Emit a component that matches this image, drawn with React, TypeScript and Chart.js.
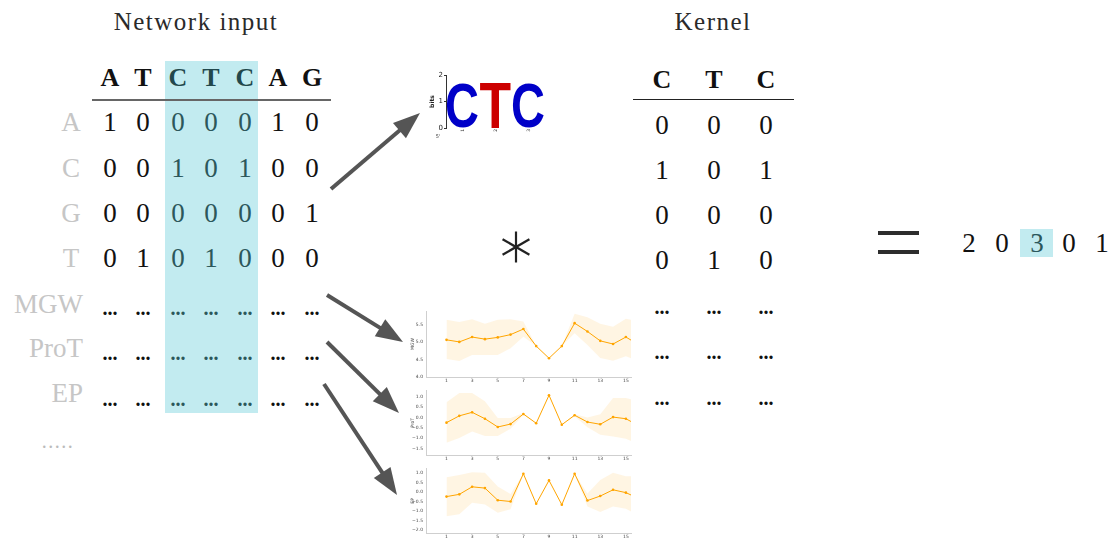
import React, { useEffect, useRef } from 'react';
import { Chart, registerables } from 'chart.js';

Chart.register(...registerables);

const SERIF = '"Liberation Serif", "DejaVu Serif", serif';
const SANS = '"DejaVu Sans", "Liberation Sans", sans-serif';

// ---- one-hot encoded input ----
const seqBases = ['A', 'T', 'C', 'T', 'C', 'A', 'G'];
const rowNames = ['A', 'C', 'G', 'T'];
const oneHot = [
  [1, 0, 0, 0, 0, 1, 0],
  [0, 0, 1, 0, 1, 0, 0],
  [0, 0, 0, 0, 0, 0, 1],
  [0, 1, 0, 1, 0, 0, 0],
];
const featureNames = ['MGW', 'ProT', 'EP'];
const windowCols = [2, 3, 4];

// ---- convolution kernel and output ----
const kernelBases = ['C', 'T', 'C'];
const kernel = [
  [0, 0, 0],
  [1, 0, 1],
  [0, 0, 0],
  [0, 1, 0],
];
const convOutput = [2, 0, 3, 0, 1];
const convHighlight = 2;

// ---- sequence logo of the kernel ----
const motifLetters = ['C', 'T', 'C'];
const motifBits = [1.7, 1.72, 1.7];
const motifPositions = ['1', '2', '3'];
const bitsTicks = [0, 1, 2];
const letterColors: Record<string, string> = { A: '#00a000', C: '#0000c8', G: '#ffb300', T: '#cc0000' };

// ---- DNA shape profiles (mean with band) ----
const positions = [1, 2, 3, 4, 5, 6, 7, 8, 9, 10, 11, 12, 13, 14, 15, 16];
const shapeXTicks = [1, 3, 5, 7, 9, 11, 13, 15];

const mgwMean = [5.07, 5.01, 5.15, 5.09, 5.14, 5.22, 5.38, 4.89, 4.54, 4.89, 5.55, 5.31, 5.04, 4.95, 5.15, 4.93];
const mgwUpper = [5.65, 5.58, 5.66, 5.53, 5.65, 5.66, 5.6, 4.89, 4.54, 4.89, 5.82, 5.72, 5.53, 5.45, 5.68, 5.6];
const mgwLower = [4.52, 4.46, 4.63, 4.63, 4.63, 4.83, 5.16, 4.89, 4.54, 4.89, 5.26, 4.92, 4.55, 4.47, 4.6, 4.45];
const mgwTicks = [4.0, 4.5, 5.0, 5.5];

const protMean = [-0.25, 0.08, 0.25, -0.06, -0.46, -0.32, 0.17, -0.28, 1.08, -0.35, 0.11, -0.22, -0.33, 0.02, -0.06, -0.4];
const protUpper = [0.74, 1.19, 1.19, 0.79, -0.02, -0.02, 0.22, -0.28, 1.08, -0.35, 0.16, 0.0, 0.16, 0.95, 0.95, 0.8];
const protLower = [-1.22, -1.0, -0.68, -0.9, -0.9, -0.55, 0.12, -0.28, 1.08, -0.35, 0.06, -0.47, -0.84, -0.92, -1.03, -1.3];
const protTicks = [-1.5, -1.0, -0.5, 0.0, 0.5, 1.0];

const epMean = [-0.24, -0.12, 0.28, 0.21, -0.43, -0.5, 0.97, -0.62, 0.62, -0.67, 0.97, -0.45, -0.21, 0.12, -0.03, -0.34];
const epUpper = [0.79, 0.9, 1.05, 1.02, 0.29, -0.1, 0.97, -0.62, 0.62, -0.67, 0.97, -0.07, 0.64, 1.02, 0.84, 0.85];
const epLower = [-1.28, -1.17, -0.57, -0.66, -1.1, -0.91, 0.97, -0.62, 0.62, -0.67, 0.97, -0.76, -1.05, -0.76, -0.88, -1.25];
const epTicks = [-2.0, -1.5, -1.0, -0.5, 0.0, 0.5, 1.0];

const ORANGE = '#ffa500';
const BAND = 'rgba(255, 165, 0, 0.11)';
const HIGHLIGHT = '#c2ebf0';
const TEAL_TEXT = '#2c575b';
const LABEL_GRAY = '#c6c6c6';

const fmtTick = (v: number) => v.toFixed(1).replace('-', '\u2212');

type TxtProps = {
  x: number;
  y: number;
  size: number;
  bold?: boolean;
  color?: string;
  align?: 'center' | 'right';
  spacing?: number;
  children: React.ReactNode;
};

function Txt({ x, y, size, bold, color, align = 'center', spacing = 0, children }: TxtProps) {
  return (
    <div
      style={{
        position: 'absolute',
        left: x,
        top: y,
        transform: align === 'center' ? 'translate(-50%, -50%)' : 'translate(-100%, -50%)',
        fontFamily: SERIF,
        fontSize: size,
        fontWeight: bold ? 700 : 400,
        color: color || '#111',
        lineHeight: 1,
        whiteSpace: 'nowrap',
        letterSpacing: spacing,
      }}
    >
      {children}
    </div>
  );
}

type ShapeProps = {
  label: string;
  mean: number[];
  upper: number[];
  lower: number[];
  yMin: number;
  yMax: number;
  yTicks: number[];
  left: number;
  top: number;
  width: number;
  height: number;
  padTop: number;
};

function ShapeChart(p: ShapeProps) {
  const ref = useRef<HTMLCanvasElement | null>(null);
  useEffect(() => {
    if (!ref.current) return;
    const pts = (arr: number[]) => positions.map((x, i) => ({ x, y: arr[i] }));
    const chart = new Chart(ref.current, {
      type: 'line',
      data: {
        datasets: [
          {
            data: pts(p.mean),
            borderColor: ORANGE,
            borderWidth: 1,
            pointRadius: 1.3,
            pointBackgroundColor: ORANGE,
            pointBorderWidth: 0,
            fill: false,
            tension: 0,
          },
          { data: pts(p.upper), borderWidth: 0, pointRadius: 0, fill: false, backgroundColor: BAND },
          { data: pts(p.lower), borderWidth: 0, pointRadius: 0, fill: 1, backgroundColor: BAND },
        ],
      },
      options: {
        animation: false,
        responsive: false,
        events: [],
        layout: { padding: { top: p.padTop, left: 0, right: 0, bottom: 0 } },
        plugins: { legend: { display: false }, tooltip: { enabled: false } },
        scales: {
          x: {
            type: 'linear',
            min: -0.6,
            max: 15.4,
            afterBuildTicks: (s: any) => {
              s.ticks = shapeXTicks.map((v) => ({ value: v }));
            },
            afterFit: (s: any) => {
              s.height = 8;
            },
            grid: { display: false, drawTicks: false },
            border: { color: '#cfcfcf', width: 1 },
            ticks: {
              font: { size: 4.5, family: SANS },
              color: '#444',
              padding: 1.5,
              maxRotation: 0,
              autoSkip: false,
              callback: (v: any) => String(v),
            },
          },
          y: {
            type: 'linear',
            min: p.yMin,
            max: p.yMax,
            afterBuildTicks: (s: any) => {
              s.ticks = p.yTicks.map((v) => ({ value: v }));
            },
            afterFit: (s: any) => {
              s.width = 31;
            },
            grid: { display: false, drawTicks: false },
            border: { color: '#cfcfcf', width: 1 },
            ticks: {
              font: { size: 4.5, family: SANS },
              color: '#444',
              padding: 3,
              autoSkip: false,
              callback: (v: any) => fmtTick(Number(v)),
            },
            title: {
              display: true,
              text: p.label,
              font: { size: 4.5, family: SANS },
              color: '#333',
              padding: { top: 15, bottom: 0 },
            },
          },
        },
      },
    });
    return () => chart.destroy();
  }, []);
  return (
    <canvas
      ref={ref}
      width={p.width}
      height={p.height}
      style={{ position: 'absolute', left: p.left, top: p.top, width: p.width, height: p.height }}
    />
  );
}

// draws each motif letter stretched into its bar box
const logoLetters = {
  id: 'logoLetters',
  afterDatasetsDraw(chart: any) {
    const ctx = chart.ctx;
    const meta = chart.getDatasetMeta(0);
    meta.data.forEach((bar: any, i: number) => {
      const letter = motifLetters[i];
      const { x, y, base, width } = bar.getProps(['x', 'y', 'base', 'width'], true);
      const h = base - y;
      ctx.save();
      ctx.font = 'bold 100px "Liberation Sans", "DejaVu Sans", sans-serif';
      ctx.textAlign = 'left';
      ctx.textBaseline = 'alphabetic';
      const m = ctx.measureText(letter);
      const gw = m.actualBoundingBoxLeft + m.actualBoundingBoxRight;
      const gh = m.actualBoundingBoxAscent + m.actualBoundingBoxDescent;
      ctx.translate(x - width / 2, base);
      ctx.scale(width / gw, h / gh);
      ctx.fillStyle = letterColors[letter];
      ctx.fillText(letter, m.actualBoundingBoxLeft, -m.actualBoundingBoxDescent);
      ctx.restore();
    });
    const { left, bottom } = chart.chartArea;
    ctx.save();
    ctx.font = `5px ${SANS}`;
    ctx.fillStyle = '#333';
    ctx.textAlign = 'center';
    ctx.textBaseline = 'middle';
    ctx.fillText("5'", left - 8, bottom + 9);
    ctx.restore();
  },
};

function MotifLogo() {
  const ref = useRef<HTMLCanvasElement | null>(null);
  useEffect(() => {
    if (!ref.current) return;
    const chart = new Chart(ref.current, {
      type: 'bar',
      data: {
        labels: motifPositions,
        datasets: [
          {
            data: motifBits,
            backgroundColor: 'rgba(0,0,0,0)',
            barPercentage: 1,
            categoryPercentage: 0.94,
          },
        ],
      },
      options: {
        animation: false,
        responsive: false,
        events: [],
        layout: { padding: { top: 10, right: 10, left: 0, bottom: 0 } },
        plugins: { legend: { display: false }, tooltip: { enabled: false } },
        scales: {
          x: {
            afterFit: (s: any) => {
              s.height = 17;
            },
            grid: { display: false, drawTicks: false },
            border: { display: false },
            ticks: {
              font: { size: 4.5, family: SANS },
              color: '#333',
              minRotation: 90,
              maxRotation: 90,
              padding: 1,
            },
          },
          y: {
            min: 0,
            max: 2,
            afterBuildTicks: (s: any) => {
              s.ticks = bitsTicks.map((v) => ({ value: v }));
            },
            afterFit: (s: any) => {
              s.width = 21;
            },
            grid: { drawOnChartArea: false, drawTicks: true, tickLength: 2, color: '#333' },
            border: { color: '#333', width: 1 },
            ticks: { font: { size: 7, family: SANS }, color: '#222', padding: 1 },
            title: {
              display: true,
              text: 'bits',
              font: { size: 6, family: SANS, weight: 'bold' },
              color: '#222',
              padding: { top: 4, bottom: 0 },
            },
          },
        },
      },
      plugins: [logoLetters],
    });
    return () => chart.destroy();
  }, []);
  return (
    <canvas
      ref={ref}
      width={130}
      height={80}
      style={{ position: 'absolute', left: 425, top: 65, width: 130, height: 80 }}
    />
  );
}

function arrowPath(x1: number, y1: number, x2: number, y2: number) {
  const dx = x2 - x1;
  const dy = y2 - y1;
  const len = Math.hypot(dx, dy);
  const ux = dx / len;
  const uy = dy / len;
  const headL = 27;
  const headW = 10;
  const bx = x2 - ux * headL;
  const by = y2 - uy * headL;
  return {
    shaft: { x1, y1, x2: bx + ux * 2, y2: by + uy * 2 },
    head: `${x2},${y2} ${bx - uy * headW},${by + ux * headW} ${bx + uy * headW},${by - ux * headW}`,
  };
}

const arrows = [
  [331, 189, 420, 113],
  [327, 295, 403, 342],
  [327, 342, 399, 413],
  [324, 384, 397, 495],
];

export default function App() {
  const colX = [110, 143, 178, 211, 245, 278, 312];
  const rowY = [122, 168, 213, 258];
  const featY = [304, 348, 393];
  const dotsY = [313, 358, 404];
  const kColX = [662, 714, 766];
  const kRowY = [125, 170, 215, 260];
  const outX = [969, 1002, 1037, 1069, 1102];

  return (
    <div
      style={{
        position: 'absolute',
        left: 0,
        top: 0,
        width: 1113,
        height: 539,
        overflow: 'hidden',
        background: '#fff',
      }}
    >
      {/* selected window of the input */}
      <div style={{ position: 'absolute', left: 165, top: 61, width: 93, height: 352, background: HIGHLIGHT }} />
      <div style={{ position: 'absolute', left: 1020, top: 229, width: 33, height: 28, background: HIGHLIGHT }} />

      <Txt x={196} y={21} size={25} color="#2a2a2a" spacing={1.5}>Network input</Txt>
      <Txt x={713} y={21} size={25} color="#2a2a2a" spacing={1.5}>Kernel</Txt>

      {/* input header and rules */}
      {seqBases.map((b, i) => (
        <Txt key={'h' + i} x={colX[i]} y={78} size={26} bold color={windowCols.includes(i) ? '#22484c' : '#111'}>
          {b}
        </Txt>
      ))}
      <div style={{ position: 'absolute', left: 92, top: 99, width: 239, height: 2, background: '#666' }} />

      {rowNames.map((r, ri) => (
        <React.Fragment key={'r' + ri}>
          <Txt x={71} y={rowY[ri]} size={27} color={LABEL_GRAY}>{r}</Txt>
          {oneHot[ri].map((v, ci) => (
            <Txt key={ci} x={colX[ci]} y={rowY[ri]} size={27} color={windowCols.includes(ci) ? TEAL_TEXT : '#111'}>
              {v}
            </Txt>
          ))}
        </React.Fragment>
      ))}

      {featureNames.map((f, fi) => (
        <React.Fragment key={'f' + fi}>
          <Txt x={83} y={featY[fi]} size={27} color={LABEL_GRAY} align="right">{f}</Txt>
          {colX.map((cx, ci) => (
            <Txt key={ci} x={cx} y={dotsY[fi] - 5} size={20} bold color={windowCols.includes(ci) ? TEAL_TEXT : '#111'}>
              ...
            </Txt>
          ))}
        </React.Fragment>
      ))}
      <Txt x={58} y={441} size={20} color="#bbbbbb" spacing={1.5}>.....</Txt>

      {/* kernel */}
      {kernelBases.map((b, i) => (
        <Txt key={'k' + i} x={kColX[i]} y={80} size={26} bold>{b}</Txt>
      ))}
      <div style={{ position: 'absolute', left: 633, top: 99, width: 161, height: 1.4, background: '#222' }} />
      {kernel.map((row, ri) =>
        row.map((v, ci) => (
          <Txt key={'kv' + ri + ci} x={kColX[ci]} y={kRowY[ri]} size={27}>{v}</Txt>
        ))
      )}
      {featureNames.map((_, fi) =>
        kColX.map((cx, ci) => (
          <Txt key={'kd' + fi + ci} x={cx} y={dotsY[fi] - 6} size={20} bold>...</Txt>
        ))
      )}

      {/* output of the convolution */}
      <div style={{ position: 'absolute', left: 878, top: 231, width: 41, height: 3.5, background: '#2d2d2d' }} />
      <div style={{ position: 'absolute', left: 878, top: 250, width: 41, height: 3.5, background: '#2d2d2d' }} />
      {convOutput.map((v, i) => (
        <Txt key={'o' + i} x={outX[i]} y={243} size={27} color={i === convHighlight ? TEAL_TEXT : '#111'}>{v}</Txt>
      ))}

      <svg width={1113} height={539} style={{ position: 'absolute', left: 0, top: 0, pointerEvents: 'none' }}>
        {arrows.map((a, i) => {
          const ar = arrowPath(a[0], a[1], a[2], a[3]);
          return (
            <g key={i}>
              <line {...ar.shaft} stroke="#555" strokeWidth={4} />
              <polygon points={ar.head} fill="#555" />
            </g>
          );
        })}
        {[90, 30, 150].map((deg) => {
          const r = (deg * Math.PI) / 180;
          const cx = 516;
          const cy = 247;
          return (
            <line
              key={deg}
              x1={cx - 15.5 * Math.cos(r)}
              y1={cy - 15.5 * Math.sin(r)}
              x2={cx + 15.5 * Math.cos(r)}
              y2={cy + 15.5 * Math.sin(r)}
              stroke="#222"
              strokeWidth={2.2}
            />
          );
        })}
      </svg>

      <MotifLogo />
      <ShapeChart label="MGW" mean={mgwMean} upper={mgwUpper} lower={mgwLower} yMin={4.0} yMax={5.9} yTicks={mgwTicks} left={395} top={305} width={240} height={80} padTop={6} />
      <ShapeChart label="ProT" mean={protMean} upper={protUpper} lower={protLower} yMin={-1.82} yMax={1.3} yTicks={protTicks} left={395} top={385} width={240} height={78} padTop={4} />
      <ShapeChart label="EP" mean={epMean} upper={epUpper} lower={epLower} yMin={-2.17} yMax={1.24} yTicks={epTicks} left={395} top={463} width={240} height={78} padTop={4} />
    </div>
  );
}
